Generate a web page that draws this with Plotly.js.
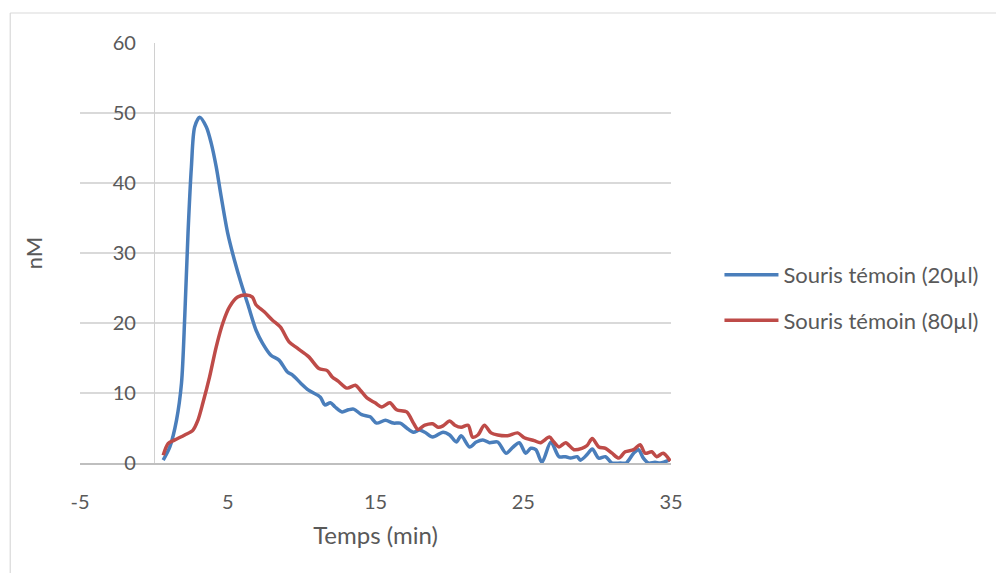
<!DOCTYPE html>
<html>
<head>
<meta charset="utf-8">
<script src="https://cdn.plot.ly/plotly-3.0.1.min.js"></script>
<style>
html,body{margin:0;padding:0;background:#fff;}
#chart{width:996px;height:573px;}
</style>
</head>
<body>
<div id="chart"></div>
<script>
// Time (min) and concentration (nM) for each series
const tBlue = [0.63,1.08,1.53,1.87,2.09,2.31,2.54,2.76,3.1,3.55,3.88,4.22,4.56,5.0,5.45,5.9,6.37,6.91,7.36,7.92,8.47,9.04,9.37,9.94,10.47,11.27,11.57,11.95,12.27,12.74,13.17,13.52,14.07,14.64,15.07,15.67,16.21,16.67,17.11,17.57,17.97,18.34,18.87,19.57,20.02,20.47,20.8,21.37,21.82,22.27,22.71,23.27,23.84,24.27,24.73,25.17,25.51,25.85,26.27,26.87,27.42,27.87,28.2,28.65,28.87,29.32,29.67,30.11,30.57,31.01,31.57,31.97,32.47,32.8,33.13,33.47,33.92,34.27,34.9];
const blue = [0.4,2.3,6.1,11.4,20.9,32.8,42.3,48,49.4,48,45.7,42.3,38,32.8,29,25.7,22.6,19,17.1,15.4,14.7,13,12.6,11.4,10.4,9.4,8.3,8.6,8.0,7.3,7.6,7.7,6.9,6.6,5.7,6.1,5.7,5.7,5,4.4,4.7,4.4,3.7,4.4,4,3,3.9,2.3,3,3.3,2.9,3,1.4,2.2,2.9,1.4,2.1,1.9,0.1,3,0.9,0.9,0.7,0.9,0.4,1.2,2.0,0.7,0.9,0,0,0,1.4,1.9,0.7,0,0.1,0,0.4];
const tRed = [0.63,0.97,1.42,2.09,2.65,2.98,3.32,3.77,4.22,4.67,5.12,5.67,6.24,6.67,6.91,7.47,8.03,8.57,9.15,9.71,10.47,11.17,11.73,12.07,12.47,13.07,13.64,13.97,14.42,14.97,15.43,15.97,16.43,17.11,17.57,17.87,18.34,18.87,19.24,19.57,20.02,20.37,20.8,21.27,21.57,21.93,22.37,22.82,23.27,23.94,24.62,25.07,25.74,26.17,26.77,27.07,27.42,27.87,28.43,28.97,29.32,29.67,30.11,30.57,31.01,31.47,31.9,32.47,32.91,33.25,33.7,34.03,34.47,34.95];
const red = [1.1,2.8,3.3,4,4.7,6.1,8.6,12.3,16.6,20,22.3,23.7,24,23.7,22.6,21.6,20.4,19.4,17.3,16.4,15.2,13.5,13.2,12.3,11.7,10.7,11.1,10.4,9.3,8.6,8,8.6,7.6,7.3,5.7,4.8,5.4,5.6,5.1,5.3,6,5.4,5.1,5.4,3.7,4,5.4,4.3,4,3.9,4.3,3.6,3.2,2.9,3.7,3,2.3,2.9,1.9,2.1,2.5,3.5,2.3,2.1,1.4,0.7,1.6,1.9,2.6,1.4,1.6,0.9,1.4,0.3];
const seriesNames = ["Souris témoin (20µl)", "Souris témoin (80µl)"];
const xTicks = [-5, 5, 15, 25, 35];
const yTicks = [0, 10, 20, 30, 40, 50, 60];

const font = "Lato, 'Open Sans', sans-serif";
const grey = "#595959";

const traces = [
  {x: tBlue, y: blue, name: seriesNames[0], type: "scatter", mode: "lines",
   line: {color: "#4a7ebb", width: 3.5, shape: "spline", smoothing: 0.8}, legendgroup: "a"},
  {x: tRed, y: red, name: seriesNames[1], type: "scatter", mode: "lines",
   line: {color: "#be4b48", width: 3.5, shape: "spline", smoothing: 0.8}, legendgroup: "b"}
];

const layout = {
  width: 996, height: 573,
  margin: {l: 80, r: 323, t: 43, b: 110},
  paper_bgcolor: "#fff", plot_bgcolor: "#fff",
  font: {family: font, size: 20, color: grey},
  showlegend: true,
  legend: {x: 1.082, y: 0.393, xanchor: "left", yanchor: "middle",
           font: {family: font, size: 22, color: grey}, itemwidth: 54,
           tracegroupgap: 14, traceorder: "grouped", bgcolor: "rgba(0,0,0,0)"},
  xaxis: {range: [-5, 35], tickvals: xTicks, ticktext: xTicks.map(String),
          showgrid: false, zeroline: false, showline: true, linecolor: "#bfbfbf", linewidth: 1.5,
          ticks: "", ticklabelstandoff: 20,
          tickfont: {family: font, size: 20, color: grey},
          title: {text: "Temps (min)", font: {family: font, size: 24, color: grey}, standoff: 15}},
  yaxis: {range: [0, 60], tickvals: yTicks, anchor: "free", position: 0.125,
          showgrid: true, gridcolor: "#d9d9d9", gridwidth: 1.2, zeroline: false,
          showline: true, linecolor: "#d0d0d0", linewidth: 1.2, ticks: "", ticklabelstandoff: 14,
          tickfont: {family: font, size: 20, color: grey},
          title: {text: "nM", font: {family: font, size: 22, color: grey}, standoff: 62}}
};
// light chart-area border (outer frame)
layout.shapes = [
  {type: "path", xref: "paper", yref: "paper",
   path: "M " + ((10-80)/593) + " " + (1 + (43-13)/420) + " L 2 " + (1 + (43-13)/420) +
         " M " + ((10-80)/593) + " " + (1 + (43-13)/420) + " L " + ((10-80)/593) + " -2",
   line: {color: "#d9d9d9", width: 1.2}}
];
Plotly.newPlot("chart", traces, layout, {displayModeBar: false, staticPlot: true});
</script>
</body>
</html>
